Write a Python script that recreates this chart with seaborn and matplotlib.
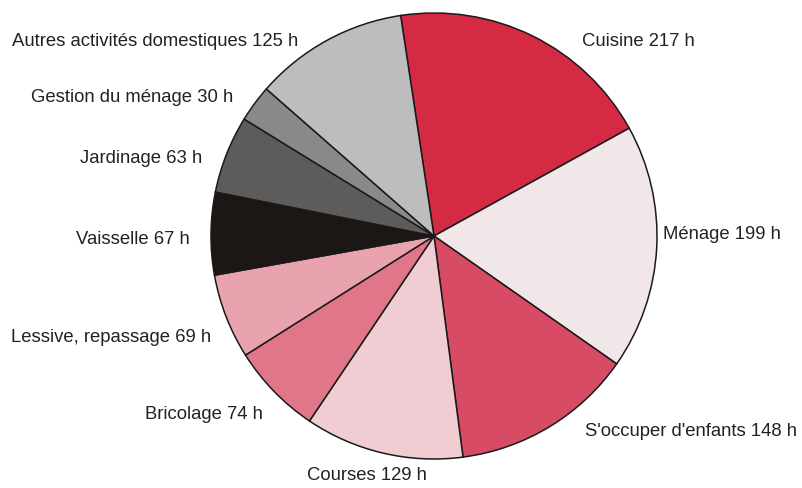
import matplotlib
matplotlib.use("Agg")
import matplotlib.pyplot as plt
import seaborn as sns

sns.set_style("white")
plt.rcParams['font.family'] = ['Liberation Sans', 'DejaVu Sans']

categories = ["Cuisine", "Ménage", "S'occuper d'enfants", "Courses", "Bricolage",
              "Lessive, repassage", "Vaisselle", "Jardinage", "Gestion du ménage",
              "Autres activités domestiques"]
hours = [217, 199, 148, 129, 74, 69, 67, 63, 30, 125]
colors = ["#D42A43", "#F1E6E8", "#D74B64", "#EFCDD3", "#E07688",
          "#E9A3AE", "#1C1614", "#5E5B5B", "#8A8888", "#BDBDBD"]

# label anchor positions in pixel coords (x, y from top), alignment
label_pos = [(582, 42, "left"), (663, 235, "left"), (585, 432, "left"),
             (367, 476, "center"), (263, 415, "right"), (211, 338, "right"),
             (190, 240, "right"), (202, 159, "right"), (233, 98, "right"),
             (298, 42, "right")]

W, H = 803, 489
fig = plt.figure(figsize=(W / 100, H / 100), dpi=100)
ax = fig.add_axes([0, 0, 1, 1])
ax.pie(hours, colors=colors, startangle=98.6, counterclock=False,
       center=(434, H - 237), radius=223,
       wedgeprops=dict(edgecolor="#1a1a1a", linewidth=1.1))
ax.set_xlim(0, W)
ax.set_ylim(0, H)
ax.set_aspect("equal")
ax.axis("off")

for cat, val, (x, y, ha) in zip(categories, hours, label_pos):
    ax.text(x, H - y, f"{cat} {val} h", ha=ha, va="center",
            fontsize=13.3, color="#222222")

fig.savefig("out.png", dpi=100, facecolor="white")
